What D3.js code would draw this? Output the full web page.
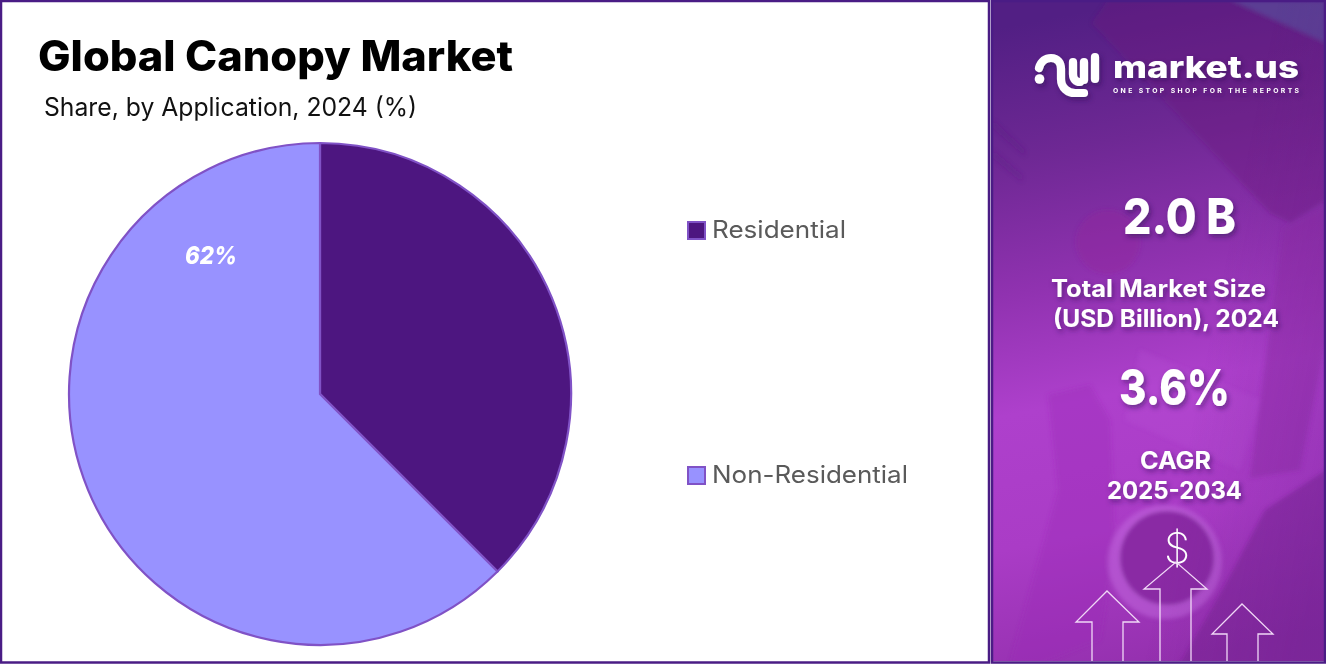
<!DOCTYPE html>
<html>
<head>
<meta charset="utf-8">
<title>Global Canopy Market</title>
<script src="https://cdnjs.cloudflare.com/ajax/libs/d3/7.8.5/d3.min.js"></script>
<style>
  html, body { margin: 0; padding: 0; background: #fff; overflow: hidden; }
  svg { display: block; }
  text { font-family: Inter, "Open Sans", sans-serif; }
</style>
</head>
<body>
<svg id="chart"></svg>
<script>
const categories = ['Residential', 'Non-Residential'];
const shareValues = [37.5, 62.5];
const sliceColors = ['#4d1680', '#9892ff'];
const sliceLabels = ['', '62%'];

const width = 1326;
const height = 664;
const purple = '#4a1c85';
const edge = '#8052c6';

const svg = d3.select('#chart').attr('width', width).attr('height', height);
const defs = svg.append('defs');

// side panel background
const grad = defs.append('linearGradient').attr('id', 'panelGrad')
  .attr('x1', '0.45').attr('y1', '0').attr('x2', '0.55').attr('y2', '1');
[[0, '#521f84'], [0.2, '#6e2894'], [0.4, '#9032b0'], [0.58, '#ae40cc'], [0.78, '#aa3cc6'], [1, '#9430ae']]
  .forEach(s => grad.append('stop').attr('offset', s[0]).attr('stop-color', s[1]));
const shade = defs.append('linearGradient').attr('id', 'panelShade')
  .attr('x1', '0').attr('y1', '0.4').attr('x2', '1').attr('y2', '0.8');
[[0, 0], [0.6, 0], [1, 0.22]].forEach(s => shade.append('stop')
  .attr('offset', s[0]).attr('stop-color', '#5a1c85').attr('stop-opacity', s[1]));
const blur = defs.append('filter').attr('id', 'soft').attr('x', '-20%').attr('y', '-20%').attr('width', '140%').attr('height', '140%');
blur.append('feGaussianBlur').attr('stdDeviation', 2);
const drop = defs.append('filter').attr('id', 'drop').attr('x', '-20%').attr('y', '-30%').attr('width', '150%').attr('height', '170%');
drop.append('feDropShadow').attr('dx', 2).attr('dy', 3).attr('stdDeviation', 2.5)
  .attr('flood-color', '#2c0a4e').attr('flood-opacity', 0.5);
const clip = defs.append('clipPath').attr('id', 'panelClip');
clip.append('rect').attr('x', 993).attr('y', 2).attr('width', 333).attr('height', 659);

svg.append('rect').attr('width', width).attr('height', height).attr('fill', '#fff');

const panel = svg.append('g').attr('clip-path', 'url(#panelClip)');
panel.append('rect').attr('x', 990).attr('y', 0).attr('width', 336).attr('height', 664).attr('fill', 'url(#panelGrad)');

// faint photo shapes behind the panel text
const bg = panel.append('g').attr('filter', 'url(#soft)');
const shapes = [
  ['M1092,23 L1108,0 L1326,0 L1326,200 L1290,223 L1270,213 Z', '#6b1f7e', 0.4],
  ['M1230,0 L1326,0 L1326,43 Z', '#5a4a9a', 0.7],
  ['M1283,228 L1326,205 L1326,340 L1300,470 L1250,478 Z', '#8f2fa5', 0.45],
  ['M993,120 L1025,150 L1025,156 L993,128 Z', '#5a1a85', 0.35],
  ['M993,150 L1022,175 L1022,182 L993,158 Z', '#5a1a85', 0.3],
  ['M1048,395 L1090,385 L1110,420 L1115,540 L1100,640 L1040,664 L1010,664 L1058,490 Z', '#9a2fb8', 0.35],
  ['M1140,350 L1260,400 L1240,470 L1125,420 Z', '#bd5adb', 0.2],
  ['M1180,664 L1225,585 L1265,510 L1326,470 L1326,664 Z', '#761f90', 0.5]
];
bg.selectAll('path').data(shapes).enter().append('path')
  .attr('d', d => d[0]).attr('fill', d => d[1]).attr('opacity', d => d[2]);
bg.append('circle').attr('cx', 1108).attr('cy', 242).attr('r', 32).attr('fill', '#92239a').attr('opacity', 0.4);
bg.append('circle').attr('cx', 1165).attr('cy', 562).attr('r', 57).attr('fill', '#c46ce0').attr('opacity', 0.5);
bg.append('circle').attr('cx', 1167).attr('cy', 558).attr('r', 47).attr('fill', '#8a2aa4');
panel.append('rect').attr('x', 990).attr('y', 0).attr('width', 336).attr('height', 664).attr('fill', 'url(#panelShade)');

// borders
svg.append('rect').attr('x', 1).attr('y', 1).attr('width', 988).attr('height', 661.5)
  .attr('fill', 'none').attr('stroke', purple).attr('stroke-width', 2.5);
svg.append('rect').attr('x', 992).attr('y', 1).attr('width', 333).attr('height', 661.5)
  .attr('fill', 'none').attr('stroke', purple).attr('stroke-width', 2.5);

// text helper: font is not Poppins, so every string is fitted to the width it has in the picture
function label(parent, str, x, y, w, size, weight, fill) {
  return parent.append('text').text(str)
    .attr('x', x).attr('y', y)
    .attr('textLength', w).attr('lengthAdjust', 'spacingAndGlyphs')
    .attr('font-size', size).attr('font-weight', weight).attr('fill', fill);
}

label(svg, 'Global Canopy Market', 38, 71, 475, 42, 800, '#000');
label(svg, 'Share, by Application, 2024 (%)', 44, 116, 373, 25, 400, '#111');

// pie
const pie = d3.pie().sort(null).value(d => d.value);
const radius = 251;
const arc = d3.arc().innerRadius(0).outerRadius(radius);
const rows = categories.map((c, i) => ({ name: c, value: shareValues[i], color: sliceColors[i], text: sliceLabels[i] }));

const pieG = svg.append('g').attr('transform', 'translate(320,394)');
pieG.selectAll('.arc')
  .data(pie(rows))
  .enter()
  .append('path')
  .classed('arc', true)
  .attr('fill', d => d.data.color)
  .attr('stroke', edge)
  .attr('stroke-width', 2.2)
  .attr('d', arc);

pieG.selectAll('.pct')
  .data(pie(rows).filter(d => d.data.text))
  .enter()
  .append('text')
  .classed('pct', true)
  .attr('x', -109)
  .attr('y', -130)
  .attr('text-anchor', 'middle')
  .attr('textLength', 52).attr('lengthAdjust', 'spacingAndGlyphs')
  .attr('font-size', 25).attr('font-weight', 800).attr('font-style', 'italic')
  .attr('fill', '#fff')
  .text(d => d.data.text);

// legend
const legendY = d3.scalePoint().domain(categories).range([230.5, 475.5]);
const legendW = { 'Residential': 134, 'Non-Residential': 196 };
const legend = svg.selectAll('.legend').data(rows).enter().append('g').classed('legend', true)
  .attr('transform', d => `translate(0,${legendY(d.name)})`);
legend.append('rect').attr('x', 688).attr('y', -8.5).attr('width', 17).attr('height', 17)
  .attr('fill', d => d.color).attr('stroke', edge).attr('stroke-width', 2);
legend.append('text').text(d => d.name)
  .attr('x', 712).attr('y', 7)
  .attr('textLength', d => legendW[d.name]).attr('lengthAdjust', 'spacingAndGlyphs')
  .attr('font-size', 24).attr('fill', '#5a5a5a');

// logo
const logo = svg.append('g').attr('filter', 'url(#drop)');
logo.append('circle').attr('cx', 1039.5).attr('cy', 79).attr('r', 4.8).attr('fill', '#fff');
const logoPaths = [
  'M1039,68 C1041,61 1046,58 1051,58 C1058,58 1061,63 1061,69 L1061,79 C1061,88 1068,93 1075,93 L1084,93',
  'M1073,62 L1073,74 C1073,79 1076,82 1080,82',
  'M1084,62 L1084,80',
  'M1095,57 L1095,79'
];
logo.selectAll('path').data(logoPaths).enter().append('path')
  .attr('d', d => d).attr('fill', 'none').attr('stroke', '#fff')
  .attr('stroke-width', 8.2).attr('stroke-linecap', 'round');
label(logo, 'market.us', 1113, 78, 186, 30, 800, '#fff');
logo.append('text').text('ONE STOP SHOP FOR THE REPORTS')
  .attr('x', 1113).attr('y', 92.5)
  .attr('textLength', 186).attr('lengthAdjust', 'spacing')
  .attr('font-size', 6.8).attr('font-weight', 700).attr('fill', '#fff');

// side panel figures
const panelBig = [['2.0 B', 1123, 234, 113, 50], ['3.6%', 1119, 405, 111, 50]];
const panelSmall = [
  ['Total Market Size', 1051, 297, 215, 24],
  ['(USD Billion), 2024', 1053, 327, 226, 24],
  ['CAGR', 1140, 469, 71, 24],
  ['2025-2034', 1107, 499, 135, 24]
];
panelBig.forEach(p => label(svg, p[0], p[1], p[2], p[3], p[4], 800, '#fff').attr('filter', 'url(#drop)'));
panelSmall.forEach(p => label(svg, p[0], p[1], p[2], p[3], p[4], 700, '#fff').attr('filter', 'url(#drop)'));

// arrows and dollar sign
svg.append('text').text('$').attr('x', 1177).attr('y', 563).attr('text-anchor', 'middle')
  .attr('font-size', 42).attr('font-weight', 200).attr('fill', '#fff');
const arrows = [
  [1107, 591, 1076, 1139, 622, 1092, 1123],
  [1176, 562, 1144, 1207, 589, 1160, 1191],
  [1242, 604, 1212, 1273, 634, 1227, 1258]
];
const arrowLine = d3.line();
svg.selectAll('.arrow').data(arrows).enter().append('path').classed('arrow', true)
  .attr('d', a => arrowLine([[a[5], 661], [a[5], a[4]], [a[2], a[4]], [a[0], a[1]], [a[3], a[4]], [a[6], a[4]], [a[6], 661]]))
  .attr('fill', 'none').attr('stroke', '#f0d8f6').attr('stroke-width', 1.3);
</script>
</body>
</html>
